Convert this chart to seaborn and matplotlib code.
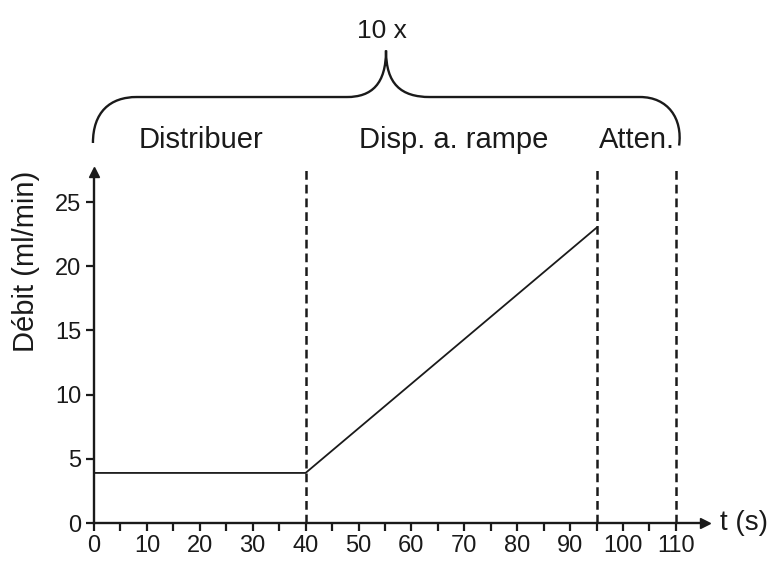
import matplotlib
matplotlib.use("Agg")
import matplotlib.pyplot as plt
import seaborn as sns
import pandas as pd
from matplotlib.path import Path
from matplotlib.patches import PathPatch

# ---- data ----
time_s = [0, 40, 95]
flow_ml_min = [3.9, 3.9, 23.0]
phase_bounds = [40, 95, 110]
phase_labels = ["Distribuer", "Disp. a. rampe", "Atten."]
phase_label_x = [20.2, 67.9, 102.6]
repeat_label = "10 x"
x_ticks = list(range(0, 111, 10))
x_minor = list(range(5, 111, 10))
y_ticks = [0, 5, 10, 15, 20, 25]

sns.set_style("white")
plt.rcParams['font.family'] = ['Liberation Sans', 'DejaVu Sans']

fig = plt.figure(figsize=(7.76, 5.61), dpi=100)
W, H = 776, 561
ax = fig.add_axes([94 / W, 1 - 523 / H, (705 - 94) / W, (523 - 172) / H])

df = pd.DataFrame({"t": time_s, "q": flow_ml_min})
sns.lineplot(data=df, x="t", y="q", ax=ax, color="#1a1a1a", linewidth=1.3)

ax.set_xlim(0, 115.5)
ax.set_ylim(0, 27.34)

# dashed phase boundaries
for xb in phase_bounds:
    ax.plot([xb, xb], [0, 27.6], linestyle=(0, (3.5, 2)), color="#1a1a1a",
            linewidth=1.8, clip_on=False, zorder=3)

# spines
for s in ["top", "right"]:
    ax.spines[s].set_visible(False)
for s in ["left", "bottom"]:
    ax.spines[s].set_linewidth(1.7)
    ax.spines[s].set_color("#1a1a1a")

# arrows
ax.plot(1, 0, ">", color="#1a1a1a", markersize=7, transform=ax.transAxes, clip_on=False)
ax.plot(0, 1, "^", color="#1a1a1a", markersize=7, transform=ax.transAxes, clip_on=False)

ax.set_xticks(x_ticks)
ax.set_xticks(x_minor, minor=True)
ax.set_yticks(y_ticks)
ax.tick_params(axis="both", which="both", direction="out", length=6, width=1.6,
               color="#1a1a1a", labelsize=17, labelcolor="#1a1a1a")
ax.tick_params(axis="x", which="both", bottom=True, pad=3)
ax.tick_params(axis="y", which="both", left=True, pad=3)

ax.set_xlabel("")
ax.set_ylabel("Débit (ml/min)", fontsize=21, color="#1a1a1a")
ax.yaxis.set_label_coords(-0.088, 0.746)

ax.text(118.3, 0, "t (s)", fontsize=20, va="center", ha="left", color="#1a1a1a", clip_on=False)

# brace
verts = [(-0.2, 29.6),
         (-0.2, 32.0), (3.0, 33.18), (8.1, 33.18),
         (47.8, 33.18),
         (52.5, 33.18), (55.2, 34.2), (55.2, 36.8),
         (55.2, 34.2), (58.0, 33.18), (63.5, 33.18),
         (103.2, 33.18),
         (108.5, 33.18), (111.3, 31.5), (110.6, 29.4)]
codes = [Path.MOVETO,
         Path.CURVE4, Path.CURVE4, Path.CURVE4,
         Path.LINETO,
         Path.CURVE4, Path.CURVE4, Path.CURVE4,
         Path.CURVE4, Path.CURVE4, Path.CURVE4,
         Path.LINETO,
         Path.CURVE4, Path.CURVE4, Path.CURVE4]
ax.add_patch(PathPatch(Path(verts, codes), facecolor="none", edgecolor="#1a1a1a",
                       linewidth=1.7, clip_on=False))

ax.text(54.4, 38.3, repeat_label, fontsize=19, ha="center", va="center", color="#1a1a1a", clip_on=False)
for lbl, xl in zip(phase_labels, phase_label_x):
    ax.text(xl, 29.2, lbl, fontsize=21, ha="center", va="baseline", color="#1a1a1a", clip_on=False)

fig.savefig("out.png", dpi=100)
